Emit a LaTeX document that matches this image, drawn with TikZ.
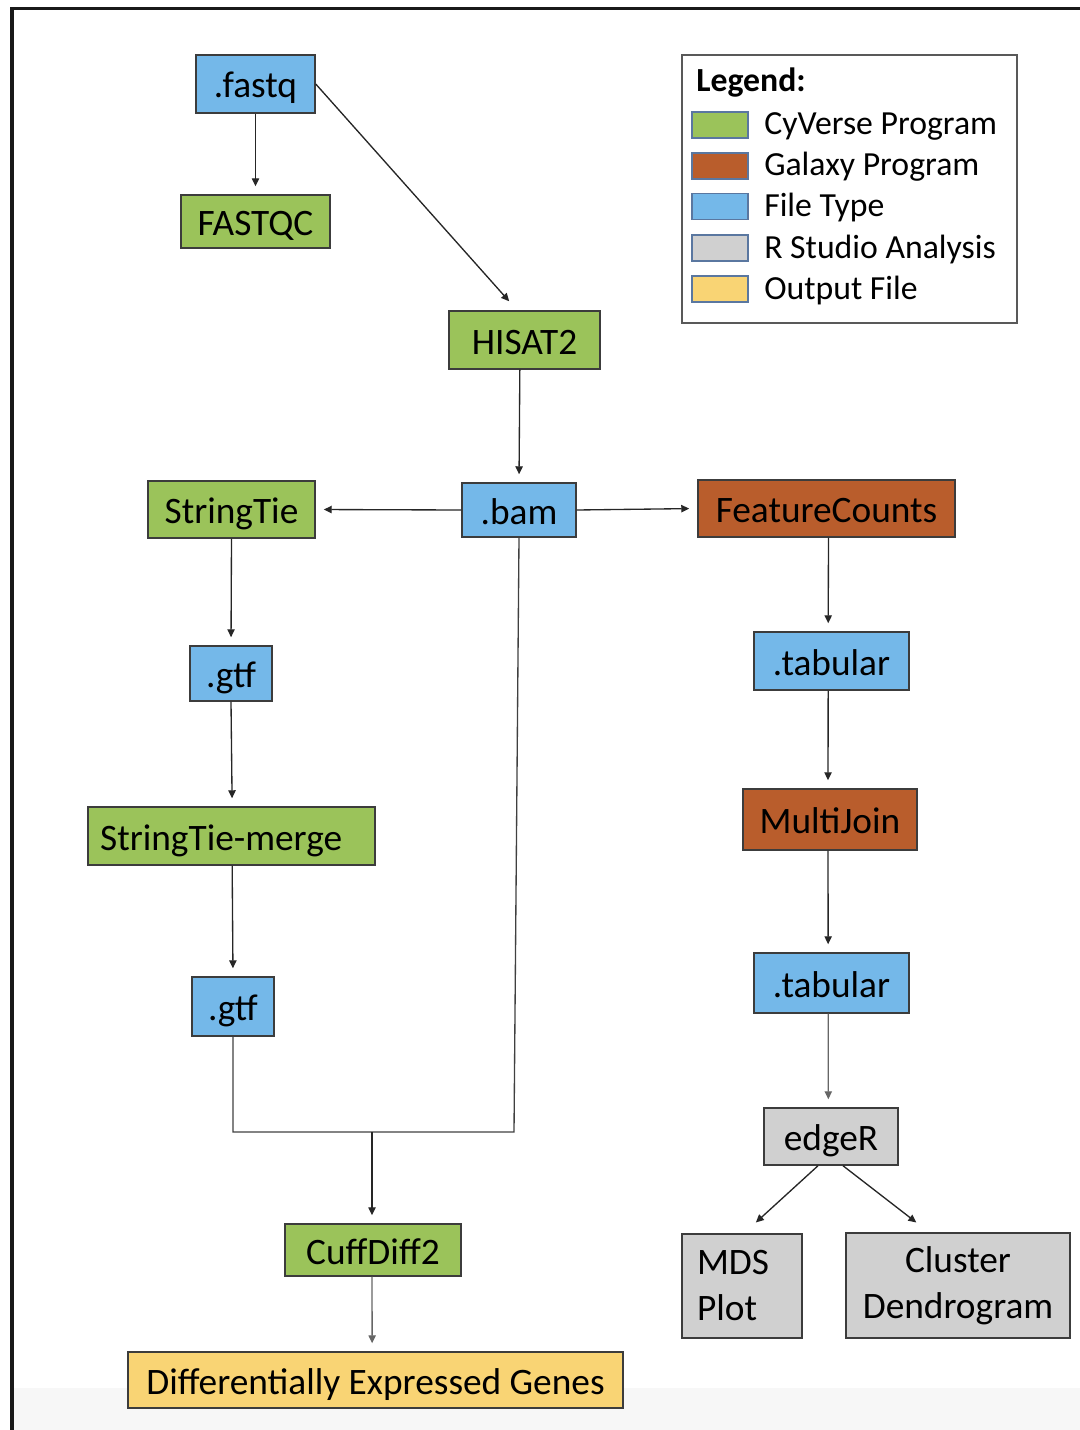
\documentclass[tikz,border=0pt]{standalone}
\usepackage{fontspec}
\setmainfont{Carlito}
\usetikzlibrary{arrows.meta,calc}
\definecolor{cygreen}{HTML}{9BC35A}
\definecolor{galorange}{HTML}{B95D2C}
\definecolor{fileblue}{HTML}{74B8E9}
\definecolor{rgray}{HTML}{D0D0D0}
\definecolor{outyellow}{HTML}{F9D474}
\definecolor{edgegray}{HTML}{3C3C3C}
\definecolor{swatchedge}{HTML}{5A77A0}
\tikzset{
  boxbase/.style={draw=edgegray, line width=1.1pt, inner sep=0pt, font=\fontsize{28}{34.5}\selectfont, anchor=center},
  box/.style={boxbase, text height=25.2pt, text depth=4.2pt},
  green/.style={box, fill=cygreen},
  orange/.style={box, fill=galorange},
  blue/.style={box, fill=fileblue},
  grey/.style={box, fill=rgray},
  greymulti/.style={boxbase, fill=rgray},
  yellow/.style={box, fill=outyellow},
  arr/.style={draw=black!85, line width=1pt, -{Triangle[length=6pt,width=5.5pt]}, shorten >=6pt},
  plain/.style={draw=black!75, line width=1pt},
  swatch/.style={draw=swatchedge, line width=1pt, minimum width=42pt, minimum height=19.5pt, inner sep=0pt},
  legtext/.style={anchor=base west, inner sep=0pt, font=\fontsize{25.3}{28}\selectfont}
}
\begin{document}
\begin{tikzpicture}[x=0.75pt,y=-0.75pt]
\useasboundingbox (0,0) rectangle (1080,1430);
% background strip and frame
\fill[black!3] (14,1388) rectangle (1080,1430);
\draw[line width=2.5pt, black!90] (12,1430) -- (12,8.5) -- (1080,8.5);
% nodes
\node[blue, minimum width=89.25pt, minimum height=43.5pt] (fastq) at (255.5,84) {.fastq};
\node[green, minimum width=111.75pt, minimum height=39.75pt] (fastqc) at (255.5,221.5) {FASTQC};
\node[green, minimum width=113.25pt, minimum height=43.5pt] (hisat) at (524.5,340) {HISAT2};
\node[blue, minimum width=85.5pt, minimum height=40.5pt] (bam) at (519,510) {.bam};
\node[green, minimum width=125.25pt, minimum height=42.75pt] (stie) at (231.5,509.5) {StringTie};
\node[orange, minimum width=192.75pt, minimum height=42.75pt] (fc) at (826.5,508.5) {FeatureCounts};
\node[blue, minimum width=61.5pt, minimum height=41.25pt] (gtfa) at (231,673.5) {.gtf};
\node[green, minimum width=215.25pt, minimum height=43.5pt, text width=197pt, align=left] (stm) at (231.5,836) {StringTie-merge};
\node[blue, minimum width=61.5pt, minimum height=44.25pt] (gtfb) at (233,1006.5) {.gtf};
\node[green, minimum width=132pt, minimum height=39pt] (cuff) at (373,1250) {CuffDiff2};
\node[yellow, minimum width=371.25pt, minimum height=42pt] (deg) at (375.5,1380) {Differentially Expressed Genes};
\node[blue, minimum width=116.25pt, minimum height=43.5pt] (taba) at (831.5,661) {.tabular};
\node[orange, minimum width=130.5pt, minimum height=45.75pt] (mj) at (830,819.5) {MultiJoin};
\node[blue, minimum width=116.25pt, minimum height=45pt] (tabb) at (831.5,983) {.tabular};
\node[grey, minimum width=100.5pt, minimum height=42.75pt] (edger) at (831,1136.5) {edgeR};
\node[greymulti, minimum width=90pt, minimum height=78pt, text width=67.5pt, align=left] (mds) at (742,1286) {MDS\\Plot};
\node[greymulti, minimum width=168pt, minimum height=78.75pt, align=center] (clus) at (958,1285.5) {Cluster\\Dendrogram};
% legend
\node[draw=black!65, line width=1pt, minimum width=251.25pt, minimum height=201pt, inner sep=0pt] (legend) at (849.5,189) {};
\node[legtext, font=\fontsize{25.3}{28}\selectfont\bfseries] (legtitle) at (696,92) {Legend:};
\node[swatch, fill=cygreen] (s1) at (720,125) {};
\node[swatch, fill=galorange] (s2) at (720,166) {};
\node[swatch, fill=fileblue] (s3) at (720,206.5) {};
\node[swatch, fill=rgray] (s4) at (720,248) {};
\node[swatch, fill=outyellow] (s5) at (720,289) {};
\node[legtext] (l1) at (764,135) {CyVerse Program};
\node[legtext] (l2) at (764,176) {Galaxy Program};
\node[legtext] (l3) at (764,216.5) {File Type};
\node[legtext] (l4) at (764,258) {R Studio Analysis};
\node[legtext] (l5) at (764,299) {Output File};
% connectors
\draw[arr] (fastq) -- (fastqc);
\draw[arr, shorten >=9pt] (fastq.east) -- ([xshift=-5.5pt]hisat.north);
\draw[arr] ([xshift=-3.5pt]hisat.south) -- ([xshift=0pt]bam.north);
\draw[arr] (bam.west) -- (stie.east);
\draw[arr] (bam.east) -- (fc.west);
\draw[arr] (stie.south) -- ([xshift=0pt]gtfa.north);
\draw[arr] (gtfa.south) -- ([xshift=0.5pt]stm.north);
\draw[arr] ([xshift=0.5pt]stm.south) -- (gtfb.north);
\coordinate (jl) at (233,1132);
\coordinate (jr) at (514,1132);
\coordinate (jm) at (372,1132);
\draw[plain, line join=miter] (gtfb.south) -- (jl) -- (jr) -- (bam.south);
\draw[arr] (jm) -- ([xshift=-0.75pt]cuff.north);
\draw[arr, draw=black!60] ([xshift=-0.75pt]cuff.south) -- ([xshift=-2.5pt]deg.north);
\draw[arr] ([xshift=1.5pt]fc.south) -- ([xshift=-2.5pt]taba.north);
\draw[arr] ([xshift=-2.5pt]taba.south) -- ([xshift=-1.5pt]mj.north);
\draw[arr] ([xshift=-1.5pt]mj.south) -- ([xshift=-2.5pt]tabb.north);
\draw[arr, draw=black!60] ([xshift=-2.5pt]tabb.south) -- ([xshift=-2pt]edger.north);
\draw[arr, shorten >=12pt] ([xshift=-9.75pt]edger.south) -- ([xshift=1.5pt]mds.north);
\draw[arr, shorten >=12pt] ([xshift=9pt]edger.south) -- ([xshift=-21.75pt]clus.north);
\end{tikzpicture}
\end{document}
